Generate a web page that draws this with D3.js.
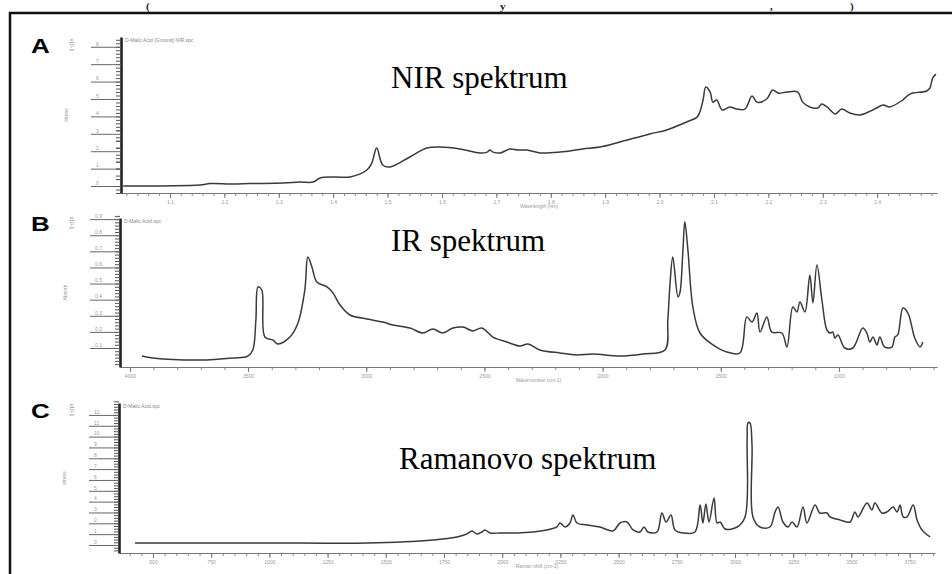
<!doctype html>
<html>
<head>
<meta charset="utf-8">
<title>NIR, IR a Ramanovo spektrum</title>
<script src="https://d3js.org/d3.v7.min.js"></script>
<style>
  body { margin: 0; background: #fff; }
  svg { display: block; }
</style>
</head>
<body>
<script>

// ---- data ----

// A: NIR spectrum, wavelength (nm) vs. intensity
var nirWavelength = [
  1014, 1155, 1174, 1216, 1247, 1308, 1339, 1363, 1376, 1403,
  1431, 1462, 1471, 1480, 1491, 1504, 1541, 1572, 1596, 1633,
  1670, 1683, 1688, 1694, 1707, 1725, 1740, 1756, 1780, 1817,
  1859, 1890, 1927, 1982, 2013, 2050, 2069, 2074, 2080, 2085,
  2093, 2098, 2105, 2115, 2129, 2142, 2157, 2170, 2179, 2197,
  2208, 2218, 2234, 2254, 2263, 2276, 2291, 2298, 2308, 2323,
  2335, 2350, 2368, 2392, 2411, 2423, 2447, 2460, 2491, 2497,
  2502, 2508];
var nirIntensity = [
  0, 0.06, 0.14, 0.11, 0.14, 0.17, 0.23, 0.23, 0.46, 0.52,
  0.52, 0.92, 1.32, 2.18, 1.21, 1.09, 1.67, 2.18, 2.24, 2.13,
  1.90, 1.95, 2.07, 1.95, 1.90, 2.13, 2.07, 2.07, 1.90, 1.95,
  2.13, 2.24, 2.53, 2.99, 3.22, 3.68, 3.96, 4.25, 4.94, 5.69,
  5.40, 4.82, 4.94, 4.37, 4.54, 4.42, 4.42, 5.17, 4.82, 5.00,
  5.51, 5.34, 5.40, 5.40, 4.82, 4.54, 4.48, 4.71, 4.54, 4.14,
  4.42, 4.19, 4.08, 4.37, 4.65, 4.54, 4.94, 5.28, 5.46, 5.63,
  6.20, 6.43];
var nirXTicks = [1100, 1200, 1300, 1400, 1500, 1600, 1700, 1800, 1900, 2000, 2100, 2200, 2300, 2400];
var nirYTicks = [0, 1, 2, 3, 4, 5, 6, 7, 8];

// B: IR spectrum, wavenumber (cm-1) vs. absorbance
var irWavenumber = [
  3949, 3903, 3704, 3564, 3501, 3480, 3467, 3458, 3442, 3429,
  3395, 3374, 3323, 3289, 3260, 3247, 3230, 3209, 3166, 3141,
  3111, 3069, 2997, 2930, 2887, 2815, 2760, 2718, 2676, 2633,
  2591, 2549, 2511, 2464, 2405, 2350, 2316, 2265, 2181, 2109,
  2041, 1927, 1829, 1736, 1724, 1715, 1703, 1681, 1673, 1660,
  1652, 1639, 1618, 1588, 1533, 1474, 1419, 1390, 1368, 1347,
  1334, 1305, 1284, 1241, 1220, 1195, 1178, 1165, 1144, 1123,
  1110, 1093, 1072, 1051, 1038, 1026, 1017, 1004, 975, 941,
  899, 882, 869, 856, 839, 827, 806, 776, 763, 751,
  729, 708, 679, 657, 645];
var irAbsorbance = [
  0.050, 0.038, 0.025, 0.038, 0.050, 0.088, 0.274, 0.479, 0.460, 0.168,
  0.150, 0.125, 0.168, 0.255, 0.460, 0.665, 0.603, 0.510, 0.479, 0.442,
  0.367, 0.305, 0.280, 0.261, 0.243, 0.224, 0.193, 0.218, 0.193, 0.224,
  0.230, 0.206, 0.224, 0.168, 0.137, 0.112, 0.125, 0.088, 0.069, 0.057,
  0.063, 0.050, 0.063, 0.088, 0.274, 0.491, 0.665, 0.417, 0.442, 0.709,
  0.883, 0.709, 0.355, 0.193, 0.119, 0.075, 0.069, 0.293, 0.261, 0.317,
  0.199, 0.293, 0.199, 0.193, 0.106, 0.355, 0.324, 0.386, 0.324, 0.553,
  0.380, 0.616, 0.398, 0.212, 0.193, 0.199, 0.162, 0.181, 0.100, 0.100,
  0.224, 0.193, 0.137, 0.168, 0.119, 0.168, 0.106, 0.106, 0.168, 0.181,
  0.348, 0.317, 0.162, 0.106, 0.137];
var irXTicks = [4000, 3500, 3000, 2500, 2000, 1500, 1000];
var irYTicks = [0.1, 0.2, 0.3, 0.4, 0.5, 0.6, 0.7, 0.8, 0.9];

// C: Raman spectrum, Raman shift (cm-1) vs. intensity
var ramanShift = [
  423, 1131, 1419, 1703, 1806, 1849, 1870, 1892, 1913, 1926,
  1948, 1991, 2064, 2132, 2192, 2235, 2248, 2270, 2291, 2304,
  2321, 2364, 2420, 2476, 2506, 2536, 2562, 2592, 2609, 2626,
  2665, 2686, 2704, 2725, 2742, 2777, 2828, 2850, 2862, 2875,
  2888, 2910, 2923, 2936, 2957, 3009, 3043, 3052, 3056, 3064,
  3073, 3077, 3107, 3150, 3172, 3185, 3206, 3228, 3245, 3266,
  3292, 3309, 3344, 3364, 3395, 3408, 3451, 3494, 3515, 3528,
  3567, 3588, 3601, 3631, 3653, 3679, 3696, 3709, 3722, 3739,
  3765, 3782, 3803, 3838];
var ramanIntensity = [
  0.18, 0.18, 0.18, 0.46, 0.74, 1.02, 1.29, 1.02, 1.20, 1.39,
  1.11, 1.11, 1.11, 1.20, 1.39, 1.66, 2.03, 1.66, 2.03, 2.77,
  2.03, 1.85, 1.66, 1.29, 2.03, 2.12, 1.39, 1.20, 1.66, 1.20,
  1.20, 2.95, 2.12, 2.77, 1.39, 1.11, 1.20, 3.69, 2.03, 3.79,
  2.12, 4.34, 2.03, 2.12, 1.48, 1.66, 2.59, 9.70, 11.27, 11.27,
  9.23, 2.59, 1.66, 1.66, 3.05, 3.51, 2.12, 1.66, 2.12, 1.66,
  3.51, 2.03, 3.69, 2.95, 2.95, 2.59, 2.31, 2.12, 3.05, 2.59,
  3.88, 3.23, 3.88, 2.95, 3.05, 3.51, 3.05, 3.69, 2.59, 2.59,
  3.69, 2.31, 1.39, 0.74];
var ramanXTicks = [500, 750, 1000, 1250, 1500, 1750, 2000, 2250, 2500, 2750, 3000, 3250, 3500, 3750];
var ramanYTicks = [0, 1, 2, 3, 4, 5, 6, 7, 8, 9, 10, 11, 12];

var panelLetters = ["A", "B", "C"];
var spectrumNames = ["NIR spektrum", "IR spektrum", "Ramanovo spektrum"];
var fileNames = ["D-Malic Acid (Ground) NIR.spc", "D-Malic Acid.spc", "D-Malic Acid.spc"];
var xTitles = ["Wavelength (nm)", "Wavenumber (cm-1)", "Raman shift (cm-1)"];
var yTitles = ["Intens", "Absorb", "Intens"];

// ---- drawing ----

var width = 952;
var height = 574;
var tinyFont = "Liberation Sans, Arial, sans-serif";

var svg = d3.select("body")
  .append("svg")
  .attr("width", width)
  .attr("height", height);

// remains of the page title above the scan (small, kept inside the picture)
[[146, "("], [500, "y"], [770, ","], [850, ")"]].forEach(function (t) {
  svg.append("text")
    .attr("x", t[0]).attr("y", 10)
    .attr("font-family", "Liberation Serif, Times New Roman, serif")
    .attr("font-size", 11)
    .attr("font-weight", "bold")
    .attr("fill", "#222")
    .text(t[1]);
});

// frame of the scan
svg.append("line")
  .attr("x1", 9).attr("x2", width).attr("y1", 13).attr("y2", 13)
  .attr("stroke", "#111").attr("stroke-width", 2.5);
svg.append("line")
  .attr("x1", 10).attr("x2", 10).attr("y1", 12).attr("y2", height)
  .attr("stroke", "#111").attr("stroke-width", 2.5);

var panels = [
  { xs: nirWavelength, ys: nirIntensity, xTicks: nirXTicks, yTicks: nirYTicks,
    xDomain: [1010, 2510], yDomain: [-0.40, 8.56], xFmt: function (d) { return d3.format(".1f")(d / 1000); },
    yFmt: d3.format("d"),
    left: 121, right: 937, top: 37, bottom: 193, letterY: 53, nameX: 391, nameY: 88, ySub: 5 },
  { xs: irWavenumber, ys: irAbsorbance, xTicks: irXTicks, yTicks: irYTicks,
    xDomain: [4042, 585], yDomain: [-0.018, 0.907], xFmt: d3.format("d"), yFmt: d3.format(".1f"),
    left: 120, right: 937, top: 218, bottom: 367, letterY: 231, nameX: 391, nameY: 251, ySub: 5 },
  { xs: ramanShift, ys: ramanIntensity, xTicks: ramanXTicks, yTicks: ramanYTicks,
    xDomain: [354, 3859], yDomain: [-0.74, 13.1], xFmt: d3.format("d"), yFmt: d3.format("d"),
    left: 119, right: 935, top: 403, bottom: 553, letterY: 418, nameX: 399, nameY: 469, ySub: 4 }
];

panels.forEach(function (p, i) {
  var x = d3.scaleLinear().domain(p.xDomain).range([p.left, p.right]);
  var y = d3.scaleLinear().domain(p.yDomain).range([p.bottom, p.top]);
  var g = svg.append("g");

  // x axis: dotted-looking minor ticks plus labelled majors
  var xStep = Math.abs(p.xTicks[1] - p.xTicks[0]) / 5;
  var xLo = Math.min(p.xDomain[0], p.xDomain[1]), xHi = Math.max(p.xDomain[0], p.xDomain[1]);
  var xMinor = d3.range(Math.ceil(xLo / xStep) * xStep, xHi, xStep);

  g.append("g")
    .attr("transform", "translate(0," + p.bottom + ")")
    .call(d3.axisBottom(x).tickValues(xMinor).tickSize(3).tickSizeOuter(0).tickFormat(""))
    .call(function (a) {
      a.select(".domain").attr("stroke", "#777").attr("stroke-width", 1.2);
      a.selectAll(".tick line").attr("stroke", "#888");
    });
  g.append("g")
    .attr("transform", "translate(0," + p.bottom + ")")
    .call(d3.axisBottom(x).tickValues(p.xTicks).tickSize(5).tickSizeOuter(0).tickPadding(2).tickFormat(p.xFmt))
    .call(function (a) {
      a.select(".domain").remove();
      a.selectAll(".tick line").attr("stroke", "#777");
      a.selectAll("text").attr("font-size", 5).attr("fill", "#999").attr("font-family", tinyFont);
    });

  g.append("text")
    .attr("x", (p.left + p.right) / 2 + 10).attr("y", p.bottom + 15)
    .attr("text-anchor", "middle")
    .attr("font-size", 5).attr("fill", "#999").attr("font-family", tinyFont)
    .text(xTitles[i]);

  // y axis: heavy spine, dense minor ticks, long major ticks
  var yStep = (p.yTicks[1] - p.yTicks[0]) / p.ySub;
  var yMinor = d3.range(p.yDomain[0], p.yDomain[1], yStep).map(function (v) {
    return Math.ceil(v / yStep) * yStep;
  });
  g.append("g")
    .attr("transform", "translate(" + p.left + ",0)")
    .call(d3.axisLeft(y).tickValues(yMinor).tickSize(5).tickSizeOuter(0).tickFormat(""))
    .call(function (a) {
      a.select(".domain").attr("stroke", "#222").attr("stroke-width", 2.6);
      a.selectAll(".tick line").attr("stroke", "#555");
    });
  g.append("g")
    .attr("transform", "translate(" + p.left + ",0)")
    .call(d3.axisLeft(y).tickValues(p.yTicks).tickSize(30).tickSizeOuter(0).tickFormat(p.yFmt))
    .call(function (a) {
      a.select(".domain").remove();
      a.selectAll(".tick line").attr("stroke", "#666");
      a.selectAll("text")
        .attr("x", -25).attr("dy", "-0.35em").attr("text-anchor", "start")
        .attr("font-size", 5).attr("fill", "#999").attr("font-family", tinyFont);
    });

  g.append("text")
    .attr("transform", "translate(" + (p.left - 53) + "," + ((p.top + p.bottom) / 2) + ") rotate(-90)")
    .attr("text-anchor", "middle")
    .attr("font-size", 5).attr("fill", "#999").attr("font-family", tinyFont)
    .text(yTitles[i]);

  // file name in the plot corner
  g.append("text")
    .attr("x", p.left + 4).attr("y", p.top + 5)
    .attr("font-size", 5).attr("fill", "#888").attr("font-family", tinyFont)
    .text(fileNames[i]);

  // the spectrum
  var line = d3.line()
    .x(function (d) { return x(d[0]); })
    .y(function (d) { return y(d[1]); })
    .curve(d3.curveCatmullRom.alpha(0.5));
  g.append("path")
    .datum(d3.zip(p.xs, p.ys))
    .attr("d", line)
    .attr("fill", "none")
    .attr("stroke", "#3a3a3a")
    .attr("stroke-width", 1.5)
    .attr("stroke-linejoin", "round");

  // panel letter (wide bold, as in the scan) with the tiny scale note
  g.append("text")
    .attr("transform", "translate(31," + p.letterY + ") scale(1.3,1)")
    .attr("font-family", "Liberation Sans, Arial, sans-serif")
    .attr("font-weight", "bold").attr("font-size", 20)
    .text(panelLetters[i]);
  g.append("text")
    .attr("transform", "translate(" + 70 + "," + (p.letterY - 8) + ") rotate(90)")
    .attr("text-anchor", "middle")
    .attr("font-size", 5).attr("fill", "#777").attr("font-family", tinyFont)
    .text("x10-1");

  // big caption
  g.append("text")
    .attr("x", p.nameX).attr("y", p.nameY)
    .attr("font-family", "Liberation Serif, Times New Roman, serif")
    .attr("font-size", 31)
    .text(spectrumNames[i]);
});

</script>
</body>
</html>
